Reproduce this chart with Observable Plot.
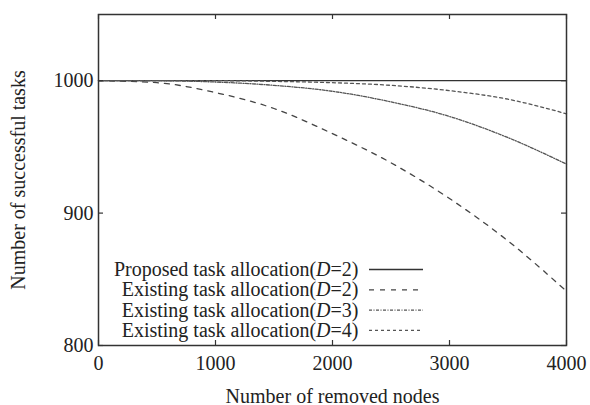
<!DOCTYPE html>
<html>
<head>
<meta charset="utf-8">
<script src="https://cdn.jsdelivr.net/npm/d3@7"></script>
<script src="https://cdn.jsdelivr.net/npm/@observablehq/plot@0.6"></script>
<style>
  html, body { margin: 0; padding: 0; background: #fff; }
</style>
</head>
<body>
<div id="chart"></div>
<script>
// ---- data ----
const removedNodes = [0, 500, 1000, 1500, 2000, 2500, 3000, 3500, 4000];
const proposedD2 = [1000, 1000, 1000, 1000, 1000, 1000, 1000, 1000, 1000];
const existingD2 = [1000, 998.5, 991, 979, 960, 938, 911, 879, 841];
const existingD3 = [1000, 1000, 999, 996.5, 992, 984, 973, 957, 937];
const existingD4 = [1000, 1000, 1000, 999.5, 998.5, 996.5, 992.5, 986, 975];

const seriesNames = [
  "Proposed task allocation(D=2)",
  "Existing task allocation(D=2)",
  "Existing task allocation(D=3)",
  "Existing task allocation(D=4)"
];
const seriesValues = [proposedD2, existingD2, existingD3, existingD4];

const xTicks = [0, 1000, 2000, 3000, 4000];
const yTicks = [800, 900, 1000];
const xLabel = "Number of removed nodes";
const yLabel = "Number of successful tasks";

// ---- styles ----
const dashes = [null, "5,6", "3,1.5,1,1.5", "3,3"];
const strokes = ["#333", "#444", "#555", "#555"];

const rows = [];
seriesNames.forEach((name, i) => {
  removedNodes.forEach((x, j) => rows.push({series: name, idx: i, x, y: seriesValues[i][j]}));
});

const xDomain = [0, 4000], yDomain = [800, 1050];
const W = 590, H = 405, mL = 98, mR = 24, mT = 14, mB = 60;
// pixel -> data helpers for placing the inside legend
const px2x = px => xDomain[0] + (px - mL) / (W - mL - mR) * (xDomain[1] - xDomain[0]);
const px2y = py => yDomain[1] - (py - mT) / (H - mT - mB) * (yDomain[1] - yDomain[0]);
const tickX = px2x(mL + 5) - xDomain[0];
const tickY = yDomain[1] - px2y(mT + 5);

const legend = seriesNames.map((name, i) => ({
  name, idx: i,
  y: px2y(269 + i * 20.3),
  tx: px2x(358), x1: px2x(369), x2: px2x(423)
}));

const marks = [];
seriesNames.forEach((name, i) => {
  marks.push(Plot.line(rows.filter(r => r.idx === i), {
    x: "x", y: "y", curve: "monotone-x",
    stroke: strokes[i], strokeWidth: 1.3,
    strokeDasharray: dashes[i] || undefined
  }));
  const L = legend[i];
  marks.push(Plot.ruleY([L], {
    y: "y", x1: "x1", x2: "x2",
    stroke: strokes[i], strokeWidth: 1.3,
    strokeDasharray: dashes[i] || undefined
  }));
});
marks.push(Plot.text(legend, {
  x: "tx", y: "y", text: "name", textAnchor: "end", fill: "#222", fontSize: 20
}));
// inward ticks on all four sides
marks.push(Plot.ruleX(xTicks, {y1: yDomain[0], y2: yDomain[0] + tickY, stroke: "#333", strokeWidth: 1.2}));
marks.push(Plot.ruleX(xTicks, {y1: yDomain[1], y2: yDomain[1] - tickY, stroke: "#333", strokeWidth: 1.2}));
marks.push(Plot.ruleY(yTicks, {x1: xDomain[0], x2: xDomain[0] + tickX, stroke: "#333", strokeWidth: 1.2}));
marks.push(Plot.ruleY(yTicks, {x1: xDomain[1], x2: xDomain[1] - tickX, stroke: "#333", strokeWidth: 1.2}));
marks.push(Plot.frame({stroke: "#333", strokeWidth: 1.5}));
marks.push(Plot.axisX({ticks: xTicks, tickSize: 0, tickPadding: 10, tickFormat: d3.format("d"),
  label: xLabel, labelAnchor: "center", labelArrow: "none", labelOffset: 57, fill: "#222"}));
marks.push(Plot.axisY({ticks: yTicks, tickSize: 0, tickPadding: 5, tickFormat: d3.format("d"),
  label: yLabel, labelAnchor: "center", labelArrow: "none", labelOffset: 88, fill: "#222"}));

const chart = Plot.plot({
  width: W, height: H,
  marginLeft: mL, marginRight: mR, marginTop: mT, marginBottom: mB,
  x: {domain: xDomain, label: xLabel, labelArrow: "none"},
  y: {domain: yDomain, label: yLabel, labelArrow: "none"},
  style: {fontFamily: "'Liberation Serif', 'Times New Roman', serif", fontSize: "20px", color: "#222", background: "#fff"},
  marks
});

// strip any automatic arrow, italicise the "D" in legend entries
chart.querySelectorAll("text").forEach(t => {
  if (t.children.length === 0) {
    const s0 = t.textContent;
    const s1 = s0.replace(/\s*[↑→←↓]\s*/g, "");
    if (s1 !== s0) t.textContent = s1;
  }
  const s = t.textContent;
  const m = s.match(/^(.*\()D(=\d\))$/);
  if (m && t.children.length === 0) {
    t.textContent = "";
    const a = document.createElementNS("http://www.w3.org/2000/svg", "tspan");
    a.textContent = m[1];
    const b = document.createElementNS("http://www.w3.org/2000/svg", "tspan");
    b.textContent = "D"; b.setAttribute("font-style", "italic");
    const c = document.createElementNS("http://www.w3.org/2000/svg", "tspan");
    c.textContent = m[2];
    t.append(a, b, c);
  }
});

document.getElementById("chart").appendChild(chart);
</script>
</body>
</html>
